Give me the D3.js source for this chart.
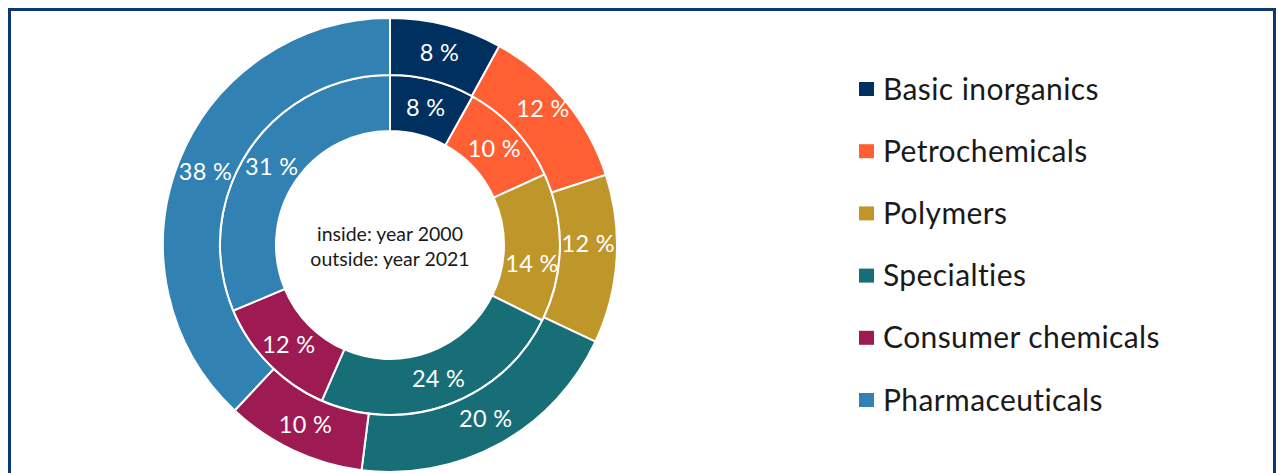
<!DOCTYPE html>
<html lang="en">
<head>
    <meta charset="UTF-8">
    <title>Chemical sales by segment</title>
    <script src="https://d3js.org/d3.v7.min.js"></script>
    <style>
        body { margin: 0; background: #fff; }
        .label { fill: #fff; font-family: Lato, "Open Sans", sans-serif; font-size: 23.5px; letter-spacing: 0.3px; }
        .legend text { fill: #1a1a1a; font-family: Lato, "Open Sans", sans-serif; font-size: 30px; letter-spacing: 0.4px; }
        .note { fill: #1a1a1a; font-family: Lato, "Open Sans", sans-serif; font-size: 19.5px; }
    </style>
</head>
<body>
    <svg id="chart" width="1278" height="473"></svg>
    <script>
        const categories = ["Basic inorganics", "Petrochemicals", "Polymers", "Specialties", "Consumer chemicals", "Pharmaceuticals"];
        const year2000 = [8, 10, 14, 24, 12, 31];
        const year2021 = [8, 12, 12, 20, 10, 38];
        const colors = ["#00305f", "#ff5f33", "#bf962a", "#186e76", "#9e1a53", "#3181b2"];

        const svg = d3.select("#chart");

        // frame (bottom edge runs off the picture)
        svg.append("rect")
            .attr("x", 9.5).attr("y", 9.5)
            .attr("width", 1265).attr("height", 490)
            .attr("fill", "none")
            .attr("stroke", "#0d3a6e")
            .attr("stroke-width", 3);

        const color = d3.scaleOrdinal().domain(categories).range(colors);
        const pie = d3.pie().sort(null).value(d => d.value);

        // a few labels were nudged apart in the original
        const nudge = { "outer|Petrochemicals": -10, "outer|Polymers": -14, "inner|Polymers": 17 };

        const g = svg.append("g").attr("transform", "translate(390,245)");

        function ring(values, r0, r1, cls) {
            const arc = d3.arc().innerRadius(r0).outerRadius(r1);
            const data = pie(categories.map((c, i) => ({ name: c, value: values[i] })));
            const grp = g.append("g").attr("class", cls);
            grp.selectAll("path")
                .data(data)
                .enter().append("path")
                .attr("d", arc)
                .attr("fill", d => color(d.data.name))
                .attr("stroke", "#fff")
                .attr("stroke-width", 2);
            grp.selectAll("text")
                .data(data)
                .enter().append("text")
                .attr("class", "label")
                .attr("transform", d => {
                    const [x, y] = arc.centroid(d);
                    return `translate(${x},${y + (nudge[cls + "|" + d.data.name] || 0)})`;
                })
                .attr("text-anchor", "middle")
                .attr("dy", "0.35em")
                .text(d => d.data.value + " %");
        }

        ring(year2000, 114, 170, "inner");
        ring(year2021, 170, 227, "outer");

        g.append("text").attr("class", "note")
            .attr("text-anchor", "middle").attr("y", -4)
            .text("inside: year 2000");
        g.append("text").attr("class", "note")
            .attr("text-anchor", "middle").attr("y", 21)
            .text("outside: year 2021");

        // legend
        const y = d3.scalePoint().domain(categories).range([89, 400]);
        const legend = svg.append("g").attr("class", "legend");
        const item = legend.selectAll("g")
            .data(categories)
            .enter().append("g")
            .attr("transform", d => `translate(859,${y(d)})`);
        item.append("rect")
            .attr("x", 0).attr("y", -7)
            .attr("width", 15).attr("height", 14)
            .attr("fill", d => color(d));
        item.append("text")
            .attr("x", 24).attr("dy", "0.35em")
            .text(d => d);
    </script>
</body>
</html>
